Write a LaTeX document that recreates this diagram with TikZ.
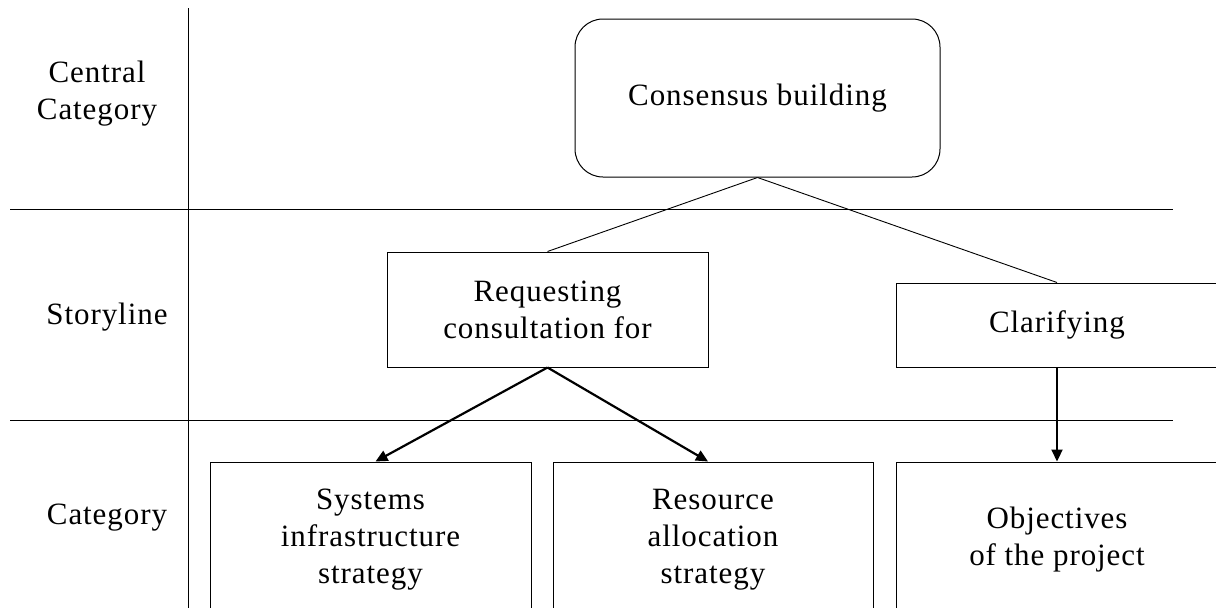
\documentclass[tikz,border=0pt]{standalone}
\usepackage{fontspec}
\setmainfont{Liberation Serif}[LetterSpace=3]
\usetikzlibrary{arrows.meta}
\begin{document}
\begin{tikzpicture}[x=1pt,y=-1pt,
  every node/.style={font=\fontsize{31}{37}\selectfont, align=center, inner sep=0pt},
  box/.style={draw, line width=1pt, minimum height=#1},
  label/.style={},
  link/.style={line width=0.9pt},
  flow/.style={line width=2.2pt, -{Triangle[length=12pt,width=11pt]}},
  grid/.style={line width=1pt}]
\useasboundingbox (0,0) rectangle (1216,608);
\clip (0,0) rectangle (1216,608);

% row and column separators
\draw[grid] (188,8) -- (188,608);
\draw[grid] (10,209) -- (1173,209);
\draw[grid] (10,420) -- (1173,420);

% row headings
\node[label] (hcentral) at (97,94) {Central\\Category};
\node[label] (hstory) at (107,317) {Storyline};
\node[label] (hcat) at (107,518) {Category};

% central category
\node[box=158, minimum width=365, rounded corners=28pt] (cons) at (757.5,98) {Consensus building};

% storylines
\node[box=115, minimum width=321] (req) at (547.5,309.5) {Requesting\\consultation for};
\node[box=84, minimum width=322] (clar) at (1057,325) {Clarifying};

% categories
\node[box=156, minimum width=321] (sys) at (370.5,540) {Systems\\infrastructure\\strategy};
\node[box=156, minimum width=320] (res) at (713,540) {Resource\\allocation\\strategy};
\node[box=156, minimum width=322] (obj) at (1057,540) {Objectives\\of the project};

% connectors
\draw[link] (cons.south) -- (req.north);
\draw[link] (cons.south) -- (clar.north);
\draw[flow] (req.south) -- ([xshift=5pt]sys.north);
\draw[flow] (req.south) -- ([xshift=-5pt]res.north);
\draw[flow] (clar.south) -- (obj.north);
\end{tikzpicture}
\end{document}
